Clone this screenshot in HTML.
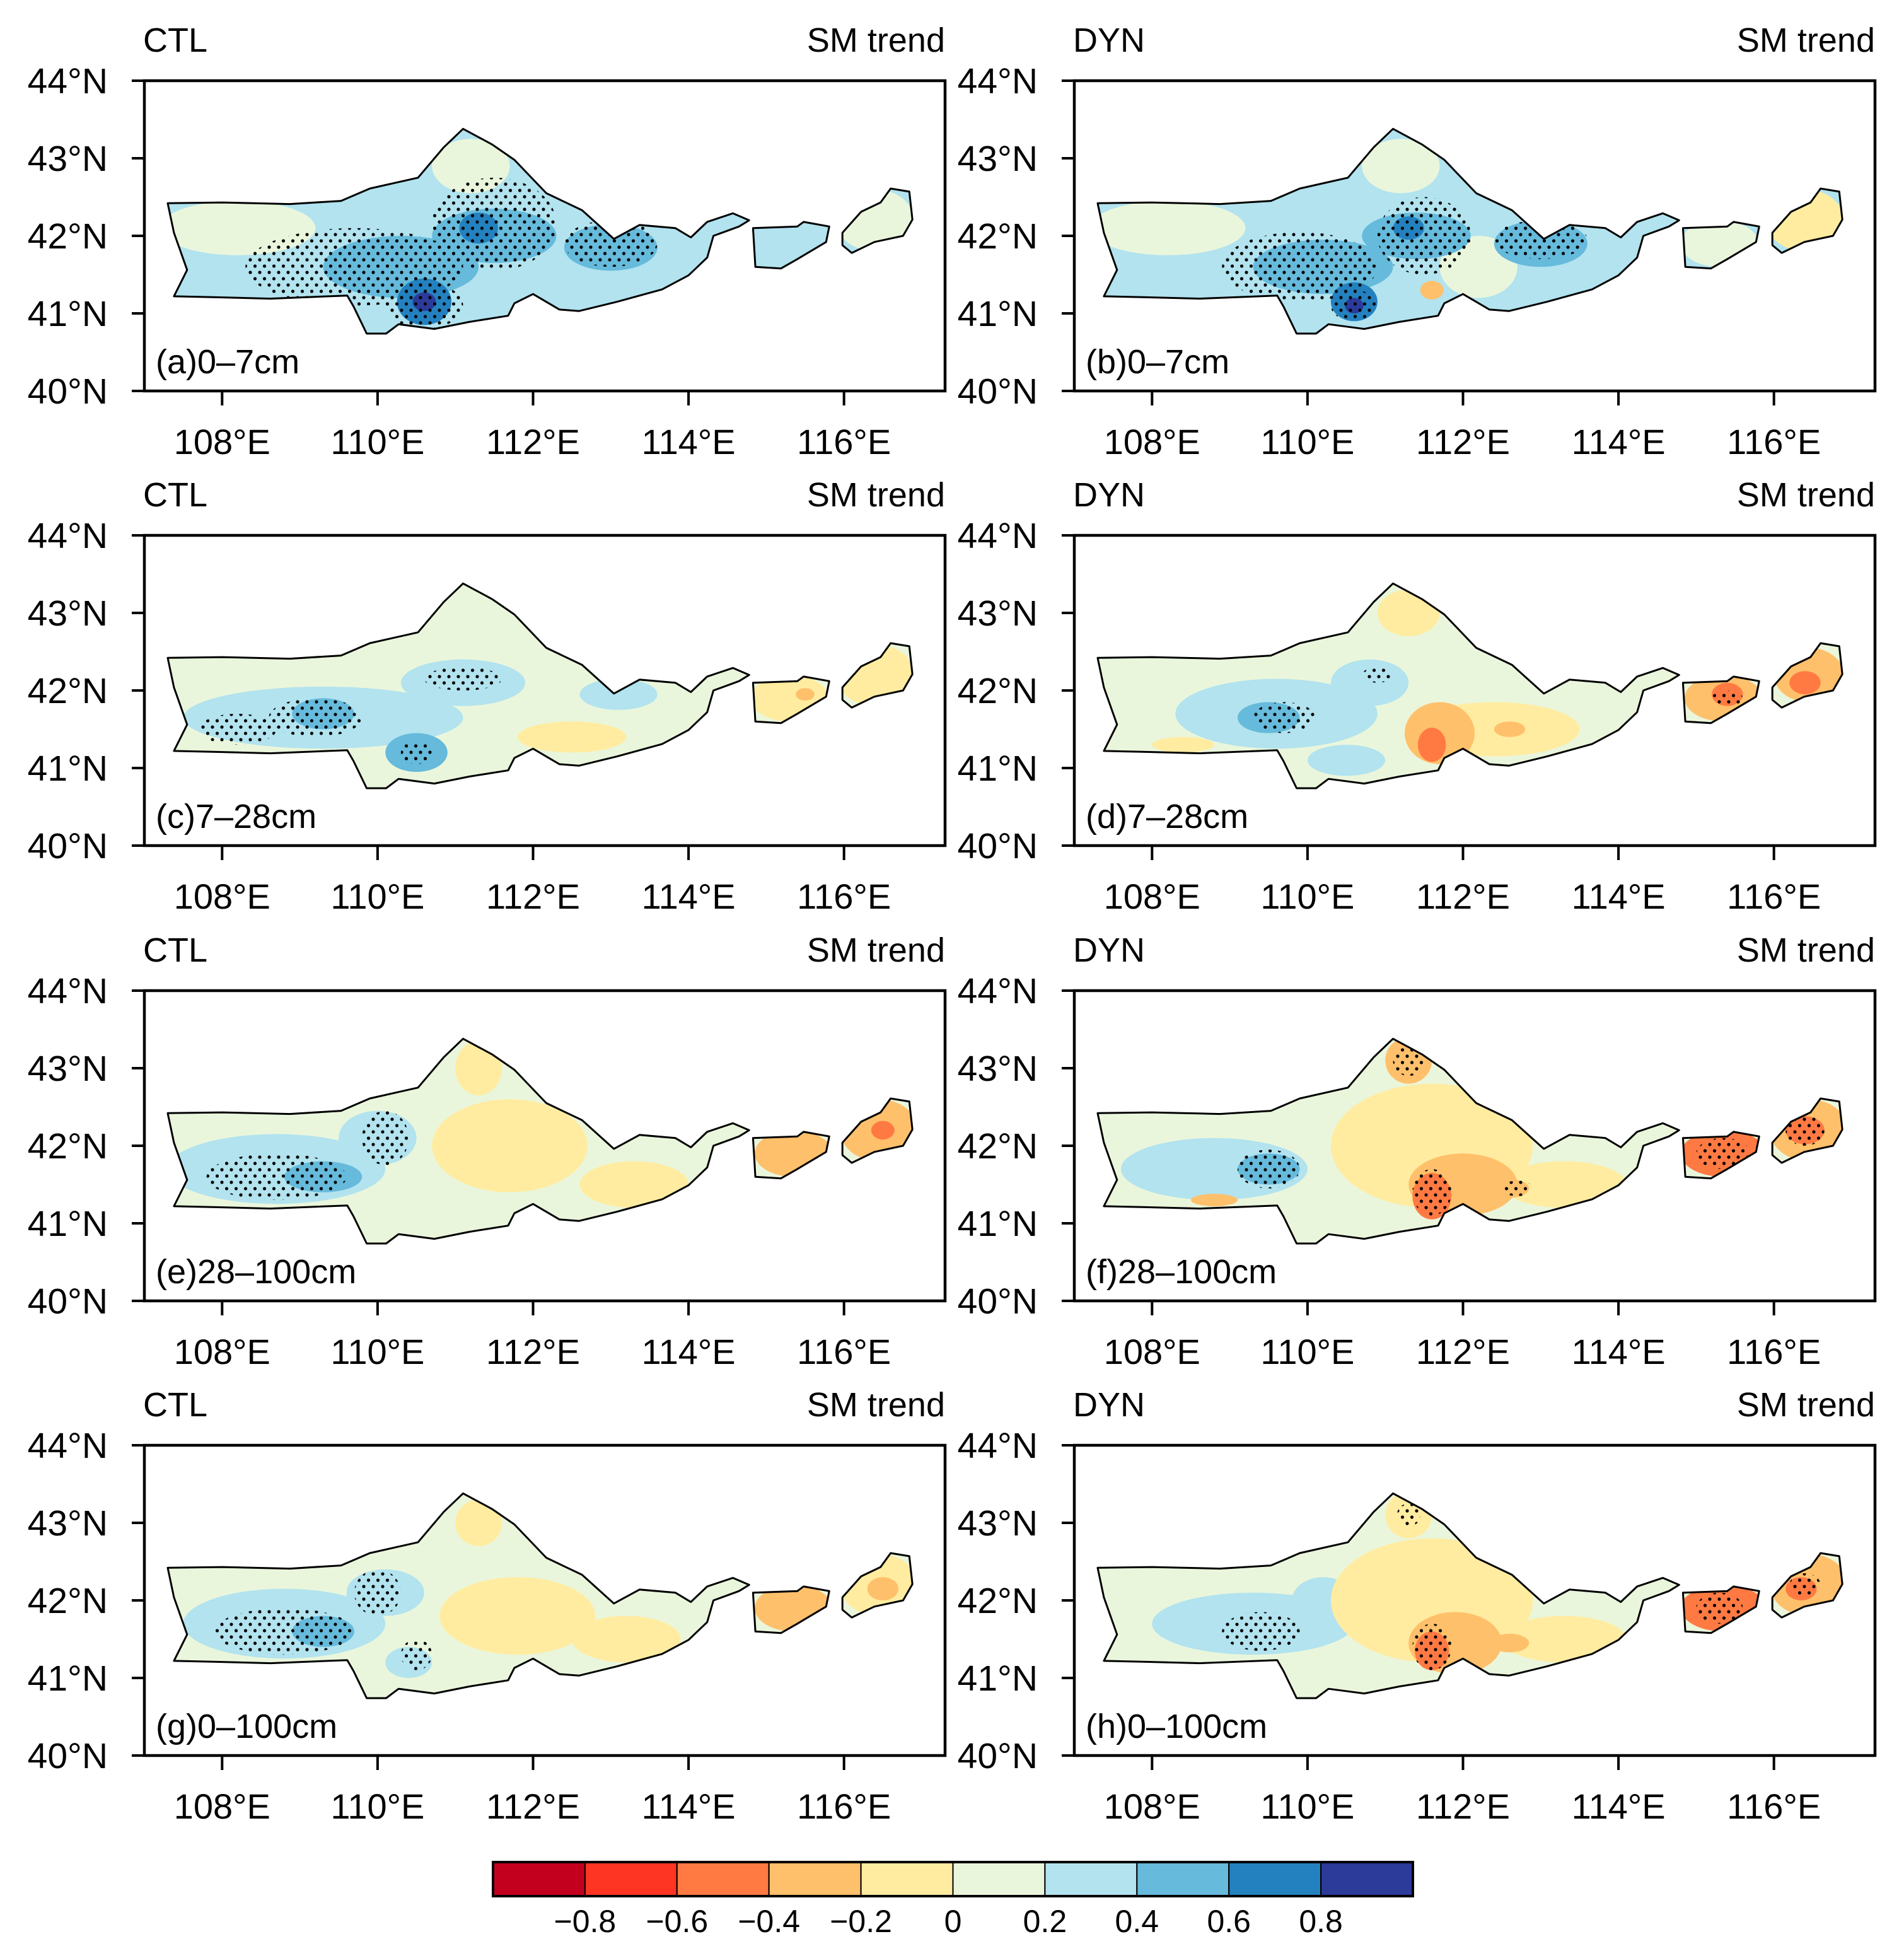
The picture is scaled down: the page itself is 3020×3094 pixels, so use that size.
<!DOCTYPE html>
<html><head><meta charset="utf-8">
<style>
html,body{margin:0;padding:0;background:#fff;}
svg{display:block;font-family:"Liberation Sans",Arial,sans-serif;}
</style></head>
<body>
<svg id="fig" xmlns="http://www.w3.org/2000/svg" width="3020" height="3094" viewBox="0 0 3020 3094">
<defs>
<pattern id="dots" patternUnits="userSpaceOnUse" width="15" height="20">
<circle cx="3" cy="4" r="2.6" fill="#000"/><circle cx="10.5" cy="14" r="2.6" fill="#000"/>
</pattern>
</defs>
</svg>
<script>
// ---- data ----
const lonTicks = [108,110,112,114,116];
const latTicks = [40,41,42,43,44];
const levels = [-0.8,-0.6,-0.4,-0.2,0,0.2,0.4,0.6,0.8];
const colors = ['#c4001f','#ff3524','#ff7a43','#ffc06b','#ffeca0','#eaf6dc','#b2e3ef','#66badb','#2481bf','#2c3a9a'];
const mainRegion = [[107.30,42.42],[108.0,42.43],[108.87,42.41],[109.53,42.45],[109.90,42.61],[110.52,42.75],[110.85,43.14],[111.10,43.38],[111.47,43.18],[111.76,42.98],[112.17,42.55],[112.63,42.33],[113.04,41.96],[113.37,42.14],[113.83,42.10],[114.03,41.98],[114.24,42.18],[114.57,42.29],[114.78,42.20],[114.65,42.12],[114.32,42.00],[114.24,41.72],[114.0,41.49],[113.66,41.31],[113.08,41.15],[112.59,41.03],[112.34,41.05],[112.0,41.25],[111.76,41.13],[111.68,40.97],[111.18,40.89],[110.73,40.80],[110.27,40.86],[110.11,40.74],[109.86,40.74],[109.69,41.09],[109.61,41.23],[108.62,41.19],[107.88,41.21],[107.38,41.22],[107.55,41.56],[107.38,42.04]];
const island1 = [[114.83,42.10],[115.40,42.12],[115.48,42.18],[115.81,42.12],[115.77,41.92],[115.40,41.70],[115.19,41.58],[114.86,41.60]];
const island2 = [[115.98,42.04],[116.22,42.31],[116.47,42.43],[116.60,42.61],[116.84,42.57],[116.88,42.21],[116.76,42.0],[116.39,41.92],[116.10,41.78],[115.98,41.88]];
const panelTitles = ['CTL','DYN','CTL','DYN','CTL','DYN','CTL','DYN'];
const panelLabels = ['(a)0\u20137cm','(b)0\u20137cm','(c)7\u201328cm','(d)7\u201328cm','(e)28\u2013100cm','(f)28\u2013100cm','(g)0\u2013100cm','(h)0\u2013100cm'];
const baseValues = [0.3,0.3,0.1,0.1,0.1,0.1,0.1,0.1];
// blobs: [lon, lat, rxDeg, ryDeg, value]
const blobsA = [[108.2,42.1,1.0,0.35,0.1],[111.2,42.9,0.5,0.35,0.1],[110.3,41.6,1.0,0.4,0.5],[111.5,42.0,0.8,0.35,0.5],[113.0,41.85,0.6,0.3,0.5],[111.3,42.1,0.25,0.2,0.7],[110.6,41.15,0.35,0.3,0.7],[110.6,41.15,0.15,0.12,0.9],[115.3,41.9,0.4,0.3,0.3],[116.4,42.2,0.5,0.4,0.1]];
const blobsB = [[108.2,42.1,1.0,0.35,0.1],[111.2,42.9,0.5,0.35,0.1],[112.2,41.6,0.5,0.4,0.1],[110.2,41.6,0.9,0.35,0.5],[111.4,42.0,0.7,0.3,0.5],[113.0,41.9,0.6,0.3,0.5],[111.3,42.1,0.2,0.15,0.7],[110.6,41.15,0.3,0.25,0.7],[110.6,41.1,0.12,0.1,0.9],[111.6,41.3,0.15,0.12,-0.3],[115.3,41.9,0.5,0.3,0.1],[116.4,42.2,0.5,0.4,-0.1]];
const blobsC = [[109.3,41.65,1.8,0.4,0.3],[111.1,42.1,0.8,0.3,0.3],[113.1,41.95,0.5,0.2,0.3],[110.5,41.2,0.4,0.25,0.5],[109.3,41.7,0.4,0.2,0.5],[112.5,41.4,0.7,0.2,-0.1],[115.3,41.9,0.5,0.3,-0.1],[116.4,42.2,0.5,0.4,-0.1],[115.5,41.95,0.12,0.08,-0.3]];
const blobsD = [[109.6,41.7,1.3,0.45,0.3],[110.8,42.1,0.5,0.3,0.3],[110.5,41.1,0.5,0.2,0.3],[109.5,41.65,0.4,0.2,0.5],[111.3,43.0,0.4,0.3,-0.1],[112.4,41.5,1.1,0.35,-0.1],[108.4,41.3,0.4,0.1,-0.1],[111.7,41.45,0.45,0.4,-0.3],[111.6,41.3,0.18,0.22,-0.5],[112.6,41.5,0.2,0.1,-0.3],[115.35,41.9,0.5,0.3,-0.3],[116.45,42.2,0.45,0.35,-0.3],[115.4,41.95,0.2,0.15,-0.5],[116.4,42.1,0.2,0.15,-0.5]];
const blobsE = [[108.7,41.7,1.4,0.45,0.3],[110.0,42.1,0.5,0.35,0.3],[109.3,41.6,0.5,0.2,0.5],[111.7,42.0,1.0,0.6,-0.1],[111.3,43.0,0.3,0.35,-0.1],[113.3,41.5,0.7,0.3,-0.1],[115.35,41.9,0.5,0.3,-0.3],[116.45,42.2,0.5,0.4,-0.3],[116.5,42.2,0.15,0.12,-0.5]];
const blobsF = [[108.8,41.7,1.2,0.4,0.3],[109.5,41.7,0.4,0.2,0.5],[111.6,42.0,1.3,0.8,-0.1],[111.3,43.1,0.3,0.3,-0.3],[113.3,41.5,0.8,0.3,-0.1],[112.0,41.5,0.7,0.4,-0.3],[111.6,41.35,0.25,0.3,-0.5],[112.6,41.45,0.25,0.12,-0.3],[108.8,41.3,0.3,0.08,-0.3],[115.35,41.9,0.55,0.3,-0.5],[116.45,42.2,0.5,0.4,-0.3],[116.4,42.2,0.25,0.18,-0.5]];
const blobsG = [[108.8,41.7,1.3,0.45,0.3],[110.1,42.1,0.5,0.3,0.3],[110.4,41.2,0.3,0.2,0.3],[109.3,41.6,0.4,0.2,0.5],[111.8,41.8,1.0,0.5,-0.1],[111.3,43.0,0.3,0.3,-0.1],[113.2,41.5,0.7,0.3,-0.1],[115.35,41.9,0.5,0.3,-0.3],[116.45,42.2,0.5,0.4,-0.1],[116.5,42.15,0.2,0.15,-0.3]];
const blobsH = [[109.3,41.7,1.3,0.4,0.3],[110.2,42.0,0.4,0.3,0.3],[111.6,42.0,1.3,0.8,-0.1],[111.3,43.1,0.3,0.3,-0.1],[113.3,41.5,0.8,0.3,-0.1],[111.9,41.45,0.6,0.4,-0.3],[111.6,41.35,0.22,0.25,-0.5],[112.6,41.45,0.25,0.12,-0.3],[115.35,41.9,0.55,0.3,-0.5],[116.45,42.2,0.5,0.4,-0.3],[116.35,42.15,0.2,0.15,-0.5]];
const blobSets = [blobsA,blobsB,blobsC,blobsD,blobsE,blobsF,blobsG,blobsH];
// stipple areas: [lon, lat, rxDeg, ryDeg]
const stipA = [[109.7,41.6,1.4,0.5],[111.5,42.15,0.8,0.6],[113.0,41.9,0.6,0.3],[110.6,41.1,0.5,0.3]];
const stipB = [[109.9,41.6,1.0,0.45],[111.5,42.0,0.6,0.5],[113.0,41.95,0.6,0.25],[110.6,41.1,0.3,0.2]];
const stipC = [[109.2,41.65,0.6,0.25],[108.2,41.5,0.5,0.2],[111.1,42.15,0.5,0.15],[110.5,41.2,0.2,0.15]];
const stipD = [[109.7,41.65,0.4,0.2],[110.9,42.2,0.2,0.1],[115.4,41.9,0.2,0.1]];
const stipE = [[108.7,41.6,0.9,0.3],[110.1,42.1,0.3,0.35]];
const stipF = [[109.5,41.7,0.4,0.25],[111.6,41.4,0.25,0.3],[111.3,43.1,0.2,0.2],[115.35,41.9,0.35,0.2],[116.4,42.2,0.25,0.2],[112.7,41.45,0.2,0.1]];
const stipG = [[108.8,41.6,0.9,0.3],[110.0,42.1,0.3,0.3],[110.5,41.3,0.2,0.2]];
const stipH = [[109.4,41.6,0.5,0.25],[111.6,41.4,0.25,0.3],[111.3,43.1,0.15,0.15],[115.3,41.9,0.3,0.2],[116.4,42.2,0.2,0.15]];
const stipSets = [stipA,stipB,stipC,stipD,stipE,stipF,stipG,stipH];

// ---- layout ----
const NS='http://www.w3.org/2000/svg';
const svg=document.getElementById('fig');
const colX=[229,1704], rowY=[128,849,1571,2292];
const pxPerLon=123.3, pxPerLat=123, lon0=107.0, lat0=44, W=1270, H=492;
function xs(lon){return (lon-lon0)*pxPerLon;}
function ys(lat){return (lat0-lat)*pxPerLat;}
function colorFor(v){let i=0;while(i<levels.length&&v>levels[i])i++;return colors[i];}
function mk(tag,attrs,parent){const e=document.createElementNS(NS,tag);for(const k in attrs)e.setAttribute(k,attrs[k]);parent.appendChild(e);return e;}
function pts(a){return a.map(p=>xs(p[0]).toFixed(1)+','+ys(p[1]).toFixed(1)).join(' ');}

const defs=svg.querySelector('defs');
for(let p=0;p<8;p++){
  const ox=colX[p%2], oy=rowY[Math.floor(p/2)];
  const g=mk('g',{transform:`translate(${ox},${oy})`},svg);
  
  
  const cp=mk('clipPath',{id:'clip'+p},defs);
  [mainRegion,island1,island2].forEach(r=>mk('polygon',{points:pts(r)},cp));
  const fg=mk('g',{'clip-path':`url(#clip${p})`},g);
  
  
  mk('rect',{x:0,y:0,width:W,height:H,fill:colorFor(baseValues[p])},fg);
  blobSets[p].forEach(b=>{
    const e=mk('ellipse',{cx:xs(b[0]),cy:ys(b[1]),rx:b[2]*pxPerLon,ry:b[3]*pxPerLat,fill:colorFor(b[4])},fg);
    
    
  });
  stipSets[p].forEach(s=>{
    const e=mk('ellipse',{cx:xs(s[0]),cy:ys(s[1]),rx:s[2]*pxPerLon,ry:s[3]*pxPerLat,fill:'url(#dots)'},fg);
    
    
  });
  [mainRegion,island1,island2].forEach(r=>{
    const e=mk('polygon',{points:pts(r),fill:'none',stroke:'#000','stroke-width':3,'stroke-linejoin':'round'},g);
    
    
  });
  const fr=mk('rect',{x:0,y:0,width:W,height:H,fill:'none',stroke:'#000','stroke-width':4.5},g);
  
  
  latTicks.forEach(t=>{
    mk('line',{x1:-20,x2:0,y1:ys(t),y2:ys(t),stroke:'#000','stroke-width':4},g);
    const tx=mk('text',{x:-58,y:ys(t)+20,'text-anchor':'end','font-size':57},g);
    tx.textContent=t+'°N';
    
    
  });
  lonTicks.forEach(t=>{
    mk('line',{x1:xs(t),x2:xs(t),y1:H,y2:H+23,stroke:'#000','stroke-width':4},g);
    const tx=mk('text',{x:xs(t),y:H+100,'text-anchor':'middle','font-size':56},g);
    tx.textContent=t+'°E';
    
    
  });
  const t1=mk('text',{x:-2,y:-46,'font-size':54},g);
  t1.textContent=panelTitles[p];
  
  
  const t2=mk('text',{x:W,y:-46,'font-size':54,'text-anchor':'end'},g);
  t2.textContent='SM trend';
  
  
  const t3=mk('text',{x:18,y:H-28,'font-size':54},g);
  t3.textContent=panelLabels[p];
  
  
}
// ---- colorbar ----
const cb=mk('g',{},svg);


const cbX=782, cbW=1459, cbY=2953, cbH=54, bw=cbW/colors.length;
colors.forEach((c,i)=>{
  const r=mk('rect',{x:cbX+i*bw,y:cbY,width:bw,height:cbH,fill:c,stroke:'#000','stroke-width':2},cb);
  
  
});
mk('rect',{x:cbX,y:cbY,width:cbW,height:cbH,fill:'none',stroke:'#000','stroke-width':4},cb);
levels.forEach((l,i)=>{
  const t=mk('text',{x:cbX+(i+1)*bw,y:3064,'font-size':50,'text-anchor':'middle'},cb);
  t.textContent=(l<0?'\u2212':'')+(l===0?'0':Math.abs(l).toString());
  
  
});
</script>
</body></html>
